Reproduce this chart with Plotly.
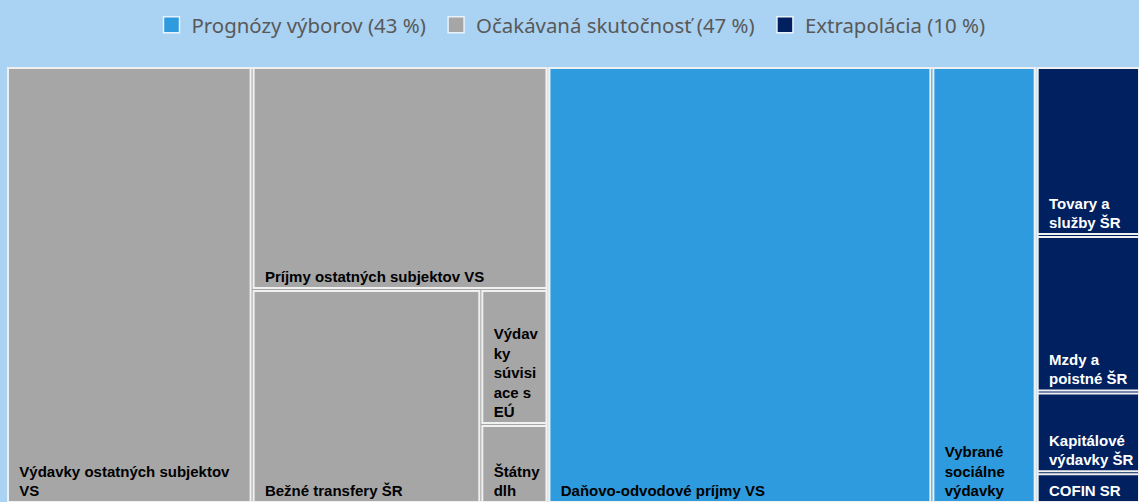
import plotly.graph_objects as go

# ---- data ----
groups = ["Očakávaná skutočnosť", "Prognózy výborov", "Extrapolácia"]
legend_labels = ["Prognózy výborov (43 %)", "Očakávaná skutočnosť (47 %)", "Extrapolácia (10 %)"]
group_colors = {"Očakávaná skutočnosť": "#A6A6A6",
                "Prognózy výborov": "#2E9BDE",
                "Extrapolácia": "#002060"}

items = ["Výdavky ostatných subjektov VS", "Príjmy ostatných subjektov VS",
         "Bežné transfery ŠR", "Výdavky súvisiace s EÚ", "Štátny dlh",
         "Daňovo-odvodové príjmy VS", "Vybrané sociálne výdavky",
         "Tovary a služby ŠR", "Mzdy a poistné ŠR", "Kapitálové výdavky ŠR", "COFIN SR"]
item_group = ["Očakávaná skutočnosť"] * 5 + ["Prognózy výborov"] * 2 + ["Extrapolácia"] * 4
item_values = [21.66, 13.31, 9.88, 1.83, 1.07,
               33.86, 9.20,
               3.56, 3.29, 1.70, 0.65]
item_text = ["Výdavky ostatných subjektov|VS", "Príjmy ostatných subjektov VS",
             "Bežné transfery ŠR", "Výdav|ky|súvisi|ace s|EÚ", "Štátny|dlh",
             "Daňovo-odvodové príjmy VS", "Vybrané|sociálne|výdavky",
             "Tovary a|služby ŠR", "Mzdy a|poistné ŠR", "Kapitálové|výdavky ŠR", "COFIN SR"]

pad = "\u00a0\u00a0"
def fmt(t):
    return "<br>".join(pad + line for line in t.split("|"))

labels = groups + items
parents = [""] * len(groups) + item_group
values = [0] * len(groups) + item_values
texts = [""] * len(groups) + [fmt(t) for t in item_text]
colors = [group_colors[g] for g in groups] + [group_colors[g] for g in item_group]
text_colors = ["black"] * len(groups) + ["white" if g == "Extrapolácia" else "black" for g in item_group]

BG = "#AAD2F2"

fig = go.Figure()
fig.add_trace(go.Treemap(
    labels=labels, parents=parents, values=values, branchvalues="remainder",
    text=texts, texttemplate="%{text}", textposition="bottom left",
    textfont=dict(family="Liberation Sans, Arial, sans-serif", size=15,
                  color=text_colors, weight="bold"),
    marker=dict(colors=colors, line=dict(color="#F0F0F0", width=2),
                pad=dict(t=0, l=0, r=0, b=0)),
    pathbar=dict(visible=False), hoverinfo="label+value",
    tiling=dict(packing="squarify"),
    domain=dict(x=[0, 1], y=[0, 1]),
))

leg_colors = ["#2E9BDE", "#A6A6A6", "#002060"]
for name, c in zip(legend_labels, leg_colors):
    fig.add_trace(go.Scatter(x=[None], y=[None], mode="markers", name=name + "\u00a0",
                             marker=dict(symbol="square", size=19, color=c,
                                         line=dict(color="#E8F2FB", width=1.5))))

fig.update_layout(
    width=1139, height=502,
    margin=dict(l=8, r=0, t=68, b=0),
    paper_bgcolor=BG, plot_bgcolor=BG,
    xaxis=dict(visible=False), yaxis=dict(visible=False),
    uniformtext=dict(minsize=15, mode="show"),
    legend=dict(orientation="h", x=0.5, xanchor="center", yref="container",
                y=1 - 25 / 502, yanchor="middle",
                font=dict(family="Noto Sans, Open Sans, sans-serif", size=20.4, color="#595959"),
                bgcolor="rgba(0,0,0,0)"),
)

post = ("document.body.style.margin='0';document.body.style.overflow='hidden';"
        "document.body.style.background='" + BG + "';")
fig.write_html("out.html", post_script=post, config={"displayModeBar": False})
